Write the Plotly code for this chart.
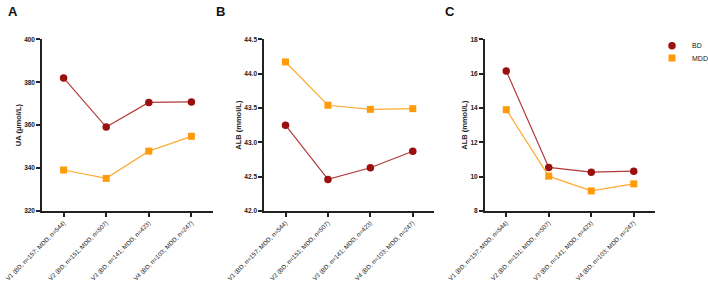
import plotly.graph_objects as go

categories = ["V1 (BD, n=157; MDD, n=544)", "V2 (BD, n=151; MDD, n=507)",
              "V3 (BD, n=141; MDD, n=423)", "V4 (BD, n=103; MDD, n=247)"]
ua_bd = [382.0, 359.1, 370.6, 370.8]
ua_mdd = [339.1, 335.2, 347.9, 354.8]
alb_bd = [43.25, 42.46, 42.63, 42.87]
alb_mdd = [44.17, 43.54, 43.48, 43.49]
c_bd = [16.15, 10.54, 10.26, 10.32]
c_mdd = [13.9, 10.03, 9.17, 9.58]

BD_MARK = "#9b0f0f"
BD_LINE = "#b23a3a"
MDD_MARK = "#ff9a0a"
MDD_LINE = "#ffaa33"

W, H = 708, 282
fig = go.Figure()

panels = [
    ("A", ua_bd, ua_mdd, [320, 400], [320, 340, 360, 380, 400], "UA (μmol/L)", (42.3, 212.7), None),
    ("B", alb_bd, alb_mdd, [42.0, 44.5], [42.0, 42.5, 43.0, 43.5, 44.0, 44.5], "ALB (mmol/L)", (264.3, 434.0), ".1f"),
    ("C", c_bd, c_mdd, [8, 18], [8, 10, 12, 14, 16, 18], "ALB (mmol/L)", (485.0, 655.0), None),
]

ytop, ybot = 39.3, 211.0
ydom = [1 - ybot / H, 1 - ytop / H]
label_x = [12.5, 220, 450]

for i, (lab, bd, mdd, yr, yt, ytitle, (x0, x1), fmt) in enumerate(panels):
    n = "" if i == 0 else str(i + 1)
    xa, ya = "x" + n, "y" + n
    fig.add_trace(go.Scatter(x=list(range(4)), y=bd, mode="lines+markers", name="BD",
                             xaxis=xa, yaxis=ya, showlegend=False, cliponaxis=False,
                             line=dict(color=BD_LINE, width=1.2),
                             marker=dict(symbol="circle", size=7.5, color=BD_MARK)))
    fig.add_trace(go.Scatter(x=list(range(4)), y=mdd, mode="lines+markers", name="MDD",
                             xaxis=xa, yaxis=ya, showlegend=False, cliponaxis=False,
                             line=dict(color=MDD_LINE, width=1.2),
                             marker=dict(symbol="square", size=7, color=MDD_MARK)))
    fig.layout["xaxis" + n] = dict(
        domain=[x0 / W, x1 / W], anchor=ya, range=[-0.5, 3.5], automargin=False,
        tickmode="array", tickvals=list(range(4)), ticktext=categories,
        tickangle=-45, ticks="outside", ticklen=4, tickwidth=1.5, tickcolor="#222",
        showline=True, linecolor="#222", linewidth=2, showgrid=False, zeroline=False,
        tickfont=dict(family="Liberation Sans, Arial", size=6.2, color="#222"),
    )
    yd = dict(
        domain=ydom, anchor=xa, range=yr, tickvals=yt, automargin=False,
        ticks="outside", ticklen=4, tickwidth=1.5, tickcolor="#222",
        showline=True, linecolor="#222", linewidth=2, showgrid=False, zeroline=False,
        tickfont=dict(family="Liberation Sans, Arial", size=6.5, color="#222", weight="bold"),
        title=dict(text=ytitle, standoff=2,
                   font=dict(family="Liberation Sans, Arial", size=7.5, color="#222", weight="bold")),
    )
    if fmt:
        yd["tickformat"] = fmt
    fig.layout["yaxis" + n] = yd
    fig.add_annotation(text="<b>" + lab + "</b>", x=label_x[i] / W, y=1 - 11 / H,
                       xref="paper", yref="paper", showarrow=False,
                       xanchor="center", yanchor="middle",
                       font=dict(family="Liberation Sans, Arial", size=13, color="#111"))

# legend-only entries (no data drawn)
fig.add_trace(go.Scatter(x=[None], y=[None], mode="markers", name="BD", legend="legend",
                         marker=dict(symbol="circle", size=7.5, color=BD_MARK)))
fig.add_trace(go.Scatter(x=[None], y=[None], mode="markers", name="MDD", legend="legend2",
                         marker=dict(symbol="square", size=7, color=MDD_MARK)))

leg_font = dict(family="Liberation Sans, Arial", size=7, color="#222")
fig.update_layout(
    width=W, height=H, margin=dict(l=0, r=0, t=0, b=0, autoexpand=False),
    plot_bgcolor="white", paper_bgcolor="white",
    legend=dict(x=652 / W, y=1 - 45.7 / H, xanchor="left", yanchor="middle",
                font=leg_font, bgcolor="rgba(0,0,0,0)", itemwidth=30),
    legend2=dict(x=652 / W, y=1 - 58 / H, xanchor="left", yanchor="middle",
                 font=leg_font, bgcolor="rgba(0,0,0,0)", itemwidth=30),
)

fig.write_html("out.html", config={"displayModeBar": False},
               post_script="document.body.style.margin='0';document.body.style.overflow='hidden';")
